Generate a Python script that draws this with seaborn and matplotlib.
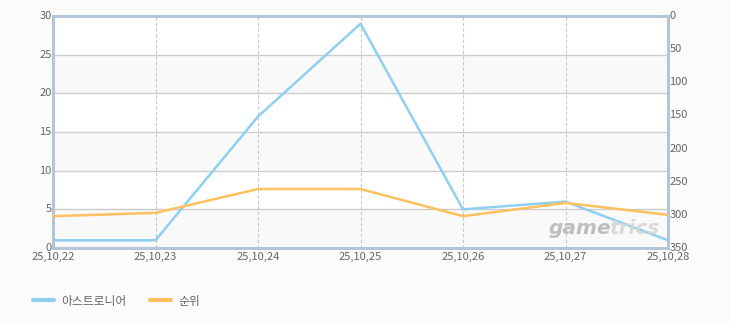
import matplotlib
matplotlib.use("Agg")
import matplotlib.pyplot as plt
import seaborn as sns
import pandas as pd
import numpy as np
from matplotlib.lines import Line2D

dates = ["25,10,22", "25,10,23", "25,10,24", "25,10,25", "25,10,26", "25,10,27", "25,10,28"]
game_values = [1, 1, 17, 29, 5, 6, 1]
rank_values = [302, 297, 261, 261, 302, 282, 300]
left_ticks = [0, 5, 10, 15, 20, 25, 30]
right_ticks = [0, 50, 100, 150, 200, 250, 300, 350]
series_names = ["아스트로니어", "순위"]

sns.set_theme(style="white")
plt.rcParams['font.family'] = ['Noto Sans CJK KR', 'DejaVu Sans']

blue = "#8fd0f0"
orange = "#ffc060"
spine_c = "#b3c6d9"
text_c = "#666666"

df = pd.DataFrame({"date": dates, "x": np.arange(len(dates)), "game": game_values, "rank": rank_values})

fig = plt.figure(figsize=(7.3, 3.25), dpi=100)
fig.patch.set_facecolor("#fbfbfb")
ax = fig.add_axes([53/730, 1-248/325, (668-53)/730, (248-16)/325])
ax.set_facecolor("white")
ax2 = ax.twinx()

# alternating bands
for i, lo in enumerate(left_ticks[:-1]):
    if i % 2 == 0:
        ax.axhspan(lo, lo + 5, color="#f9f9f9", zorder=0, lw=0)

for y in left_ticks[1:-1]:
    ax.axhline(y, color="#cccccc", lw=1, zorder=1)
for x in df["x"][1:-1]:
    ax.axvline(x, color="#c8c8c8", lw=0.8, ls=(0, (3, 2)), zorder=1)

sns.lineplot(data=df, x="x", y="game", ax=ax, color=blue, lw=1.8, zorder=3, legend=False)
sns.lineplot(data=df, x="x", y="rank", ax=ax2, color=orange, lw=1.8, zorder=3, legend=False)

ax.set_xlim(0, len(dates) - 1)
ax.set_ylim(0, 30)
ax2.set_ylim(350, 0)
ax.set_xticks(df["x"])
ax.set_xticklabels(dates)
ax.set_yticks(left_ticks)
ax2.set_yticks(right_ticks)
ax.set_xlabel("")
ax.set_ylabel("")
ax2.set_ylabel("")

for a in (ax, ax2):
    a.tick_params(axis="both", length=0, labelsize=8, colors=text_c, pad=1)
    for s in a.spines.values():
        s.set_color(spine_c)
        s.set_linewidth(2)
ax.tick_params(axis="x", pad=3)
for lbl in ax.get_yticklabels():
    lbl.set_verticalalignment("center")
for lbl in ax2.get_yticklabels():
    lbl.set_verticalalignment("center")

ax2.set_zorder(ax.get_zorder() + 1)
ax2.patch.set_visible(False)

# watermark
t1 = fig.text(549/730, 1-229/325, "game", fontsize=14.5, fontweight="bold", style="italic",
              color="#b8b8b8", va="center", ha="left", family="DejaVu Sans", alpha=0.9)
fig.canvas.draw()
bb = t1.get_window_extent(fig.canvas.get_renderer())
fig.text((bb.x1 - 2) / fig.bbox.width, 1-229/325, "trics", fontsize=14.5, fontweight="bold",
         style="italic", color="#d6d6d6", va="center", ha="left", family="DejaVu Sans", alpha=0.9)

# legend
handles = [Line2D([], [], color=blue, lw=3), Line2D([], [], color=orange, lw=3)]
fig.legend(handles, series_names, loc="center left", bbox_to_anchor=(22/730, 1-301/325),
           ncol=2, frameon=False, fontsize=8.5, labelcolor=text_c, handlelength=1.8,
           handletextpad=0.6, columnspacing=2.0)

fig.savefig("out.png", dpi=100, facecolor=fig.get_facecolor())
